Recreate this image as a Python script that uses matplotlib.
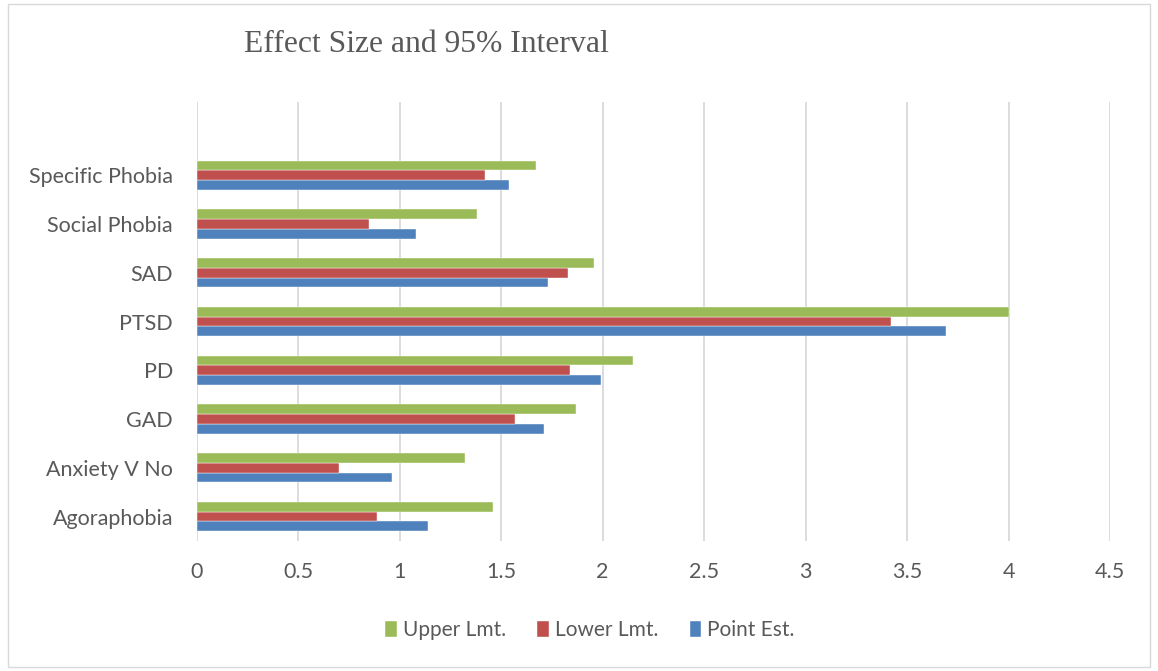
import matplotlib
matplotlib.use("Agg")
import matplotlib.pyplot as plt
import numpy as np
from matplotlib.patches import Rectangle

categories = ["Agoraphobia", "Anxiety V No", "GAD", "PD", "PTSD", "SAD", "Social Phobia", "Specific Phobia"]
point_est = [1.14, 0.96, 1.71, 1.99, 3.69, 1.73, 1.08, 1.54]
lower_lmt = [0.89, 0.70, 1.57, 1.84, 3.42, 1.83, 0.85, 1.42]
upper_lmt = [1.46, 1.32, 1.87, 2.15, 4.00, 1.96, 1.38, 1.67]
x_ticks = [0, 0.5, 1, 1.5, 2, 2.5, 3, 3.5, 4, 4.5]

BLUE = "#4F81BD"
RED = "#C0504D"
GREEN = "#9BBB59"
TEXT = "#595959"
GRID = "#D9D9D9"

plt.rcParams["font.family"] = ["Lato", "DejaVu Sans"]

fig = plt.figure(figsize=(11.58, 6.71), dpi=100)
ax = fig.add_axes([196.7 / 1158, 1 - 541 / 671, (1110 - 196.7) / 1158, (541 - 102) / 671])

y = np.arange(len(categories))
h = 0.2
ax.barh(y - h, point_est, height=h, color=BLUE, label="Point Est.", edgecolor="white", linewidth=0.3)
ax.barh(y, lower_lmt, height=h, color=RED, label="Lower Lmt.", edgecolor="white", linewidth=0.3)
ax.barh(y + h, upper_lmt, height=h, color=GREEN, label="Upper Lmt.", edgecolor="white", linewidth=0.3)

ax.set_xlim(0, 4.5)
ax.set_ylim(-0.5, len(categories) + 0.5)
ax.set_xticks(x_ticks)
ax.set_xticklabels([f"{v:g}" for v in x_ticks])
ax.set_yticks(y)
ax.set_yticklabels(categories)
ax.tick_params(axis="both", length=0, labelsize=15.5, colors=TEXT)
ax.tick_params(axis="x", pad=15)
ax.tick_params(axis="y", pad=17)
ax.xaxis.grid(True, color=GRID, linewidth=1.3)
ax.set_axisbelow(True)
for s in ax.spines.values():
    s.set_visible(False)

fig.text(426 / 1158, 1 - 44 / 671, "Effect Size and 95% Interval", ha="center", va="center",
         fontsize=22.8, color=TEXT, family=["Liberation Serif", "DejaVu Serif"])

handles, labels = ax.get_legend_handles_labels()
fig.legend(handles[::-1], labels[::-1], loc="center", bbox_to_anchor=(590 / 1158, 1 - 630 / 671),
           ncol=3, frameon=False, fontsize=15, labelcolor=TEXT, handlelength=0.55, handleheight=0.8,
           handletextpad=0.3, columnspacing=1.5)

fig.patches.append(Rectangle((8 / 1158, 4 / 671), 1142 / 1158, 663 / 671, transform=fig.transFigure,
                             fill=False, edgecolor=GRID, linewidth=1.0))

fig.savefig("out.png", dpi=100)
